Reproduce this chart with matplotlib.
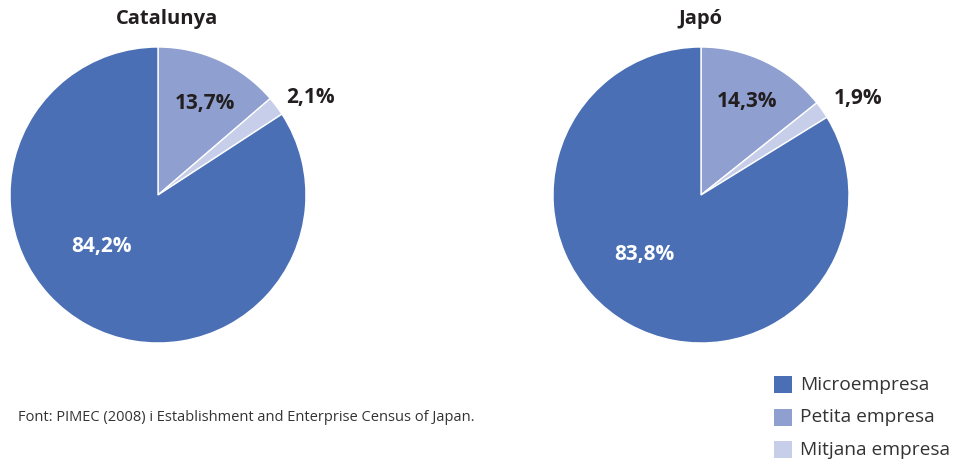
import matplotlib
matplotlib.use("Agg")
import matplotlib.pyplot as plt
from matplotlib.patches import Rectangle

plt.rcParams['font.family'] = ['Open Sans', 'DejaVu Sans']

categories = ["Petita empresa", "Mitjana empresa", "Microempresa"]
titles = ["Catalunya", "Japó"]
catalunya = [13.7, 2.1, 84.2]
japo = [14.3, 1.9, 83.8]
labels_cat = ["13,7%", "2,1%", "84,2%"]
labels_jap = ["14,3%", "1,9%", "83,8%"]
legend_order = ["Microempresa", "Petita empresa", "Mitjana empresa"]
source = "Font: PIMEC (2008) i Establishment and Enterprise Census of Japan."

colors = {"Microempresa": "#4A6FB5", "Petita empresa": "#8E9FD0", "Mitjana empresa": "#C6CEE9"}
txt = "#231F20"

W, H = 955, 461
fig = plt.figure(figsize=(W / 100, H / 100), dpi=100)

def pie_axes(cx, cy, r):
    return fig.add_axes([(cx - r) / W, (H - cy - r) / H, 2 * r / W, 2 * r / H])

# label positions relative to radius (style, not data)
label_pos = [
    [(0.32, 0.62), (1.03, 0.66), (-0.38, -0.35)],
    [(0.31, 0.635), (1.06, 0.65), (-0.38, -0.405)],
]
title_x = [167, 700]

for i, (vals, labs, title, cx) in enumerate([(catalunya, labels_cat, titles[0], 158),
                                               (japo, labels_jap, titles[1], 701)]):
    ax = pie_axes(cx, 195, 148)
    ax.pie(vals, colors=[colors[c] for c in categories], startangle=90,
           counterclock=False, radius=1,
           wedgeprops=dict(edgecolor="white", linewidth=1.0))
    ax.set_xlim(-1, 1)
    ax.set_ylim(-1, 1)
    ax.set_aspect("equal")
    ax.axis("off")
    for j, lab in enumerate(labs):
        col = "white" if categories[j] == "Microempresa" else txt
        ax.text(label_pos[i][j][0], label_pos[i][j][1], lab, ha="center", va="center",
                fontsize=15, fontweight="bold", color=col)
    fig.text(title_x[i] / W, 1 - 19 / H, title, ha="center", va="center",
             fontsize=14.5, fontweight="bold", color=txt)

# manual legend
for k, name in enumerate(legend_order):
    yc = 384.5 + k * 32.5
    fig.patches.append(Rectangle(((774) / W, 1 - (yc + 8.5) / H), 18 / W, 17 / H,
                                 transform=fig.transFigure, facecolor=colors[name],
                                 edgecolor="none"))
    fig.text(800 / W, 1 - yc / H, name, ha="left", va="center",
             fontsize=13.8, color="#333333")

fig.text(18 / W, 1 - 417 / H, source, ha="left", va="center", fontsize=10.5, color="#333333")

fig.savefig("out.png", dpi=100, facecolor="white")
